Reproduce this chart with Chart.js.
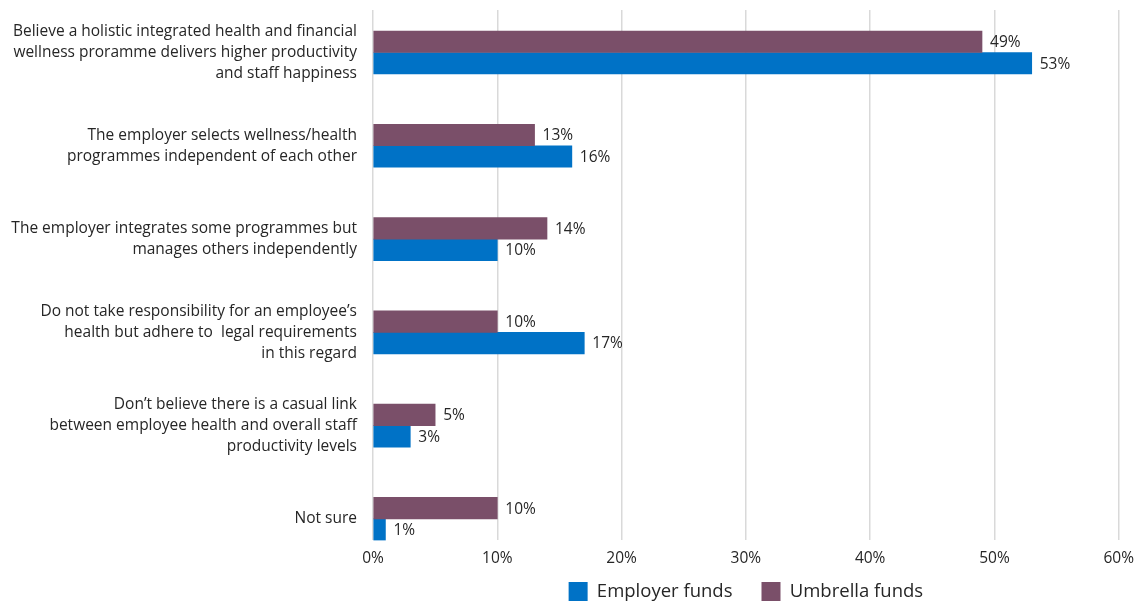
<!DOCTYPE html>
<html>
<head>
<meta charset="utf-8">
<script src="https://cdn.jsdelivr.net/npm/chart.js@4.4.1/dist/chart.umd.min.js"></script>
<style>
  html, body { margin: 0; padding: 0; background: #fff; }
  #wrap { width: 1143px; height: 603px; }
</style>
</head>
<body>
<div id="wrap"><canvas id="wellnessChart"></canvas></div>
<script>
// Survey answers, one entry per row (lines wrap as printed)
const categories = [
    ['Believe a holistic integrated health and financial', 'wellness proramme delivers higher productivity', 'and staff happiness'],
    ['The employer selects wellness/health', 'programmes independent of each other'],
    ['The employer integrates some programmes but', 'manages others independently'],
    ['Do not take responsibility for an employee\u2019s', 'health but adhere to  legal requirements', 'in this regard'],
    ['Don\u2019t believe there is a casual link', 'between employee health and overall staff', 'productivity levels'],
    ['Not sure']
];
const umbrellaFunds = [49, 13, 14, 10, 5, 10];
const employerFunds = [53, 16, 10, 17, 3, 1];
const xTicks = [0, 10, 20, 30, 40, 50, 60];

const FONT = '"Open Sans", sans-serif';
const TEXT = '#262626';

// value labels to the right of each bar
const valueLabels = {
    id: 'valueLabels',
    afterDatasetsDraw(chart) {
        const ctx = chart.ctx;
        ctx.save();
        ctx.font = '15.5px ' + FONT;
        ctx.fillStyle = TEXT;
        ctx.textAlign = 'left';
        ctx.textBaseline = 'middle';
        chart.data.datasets.forEach((ds, i) => {
            chart.getDatasetMeta(i).data.forEach((bar, j) => {
                ctx.fillText(ds.data[j].x + '%', bar.x + 8, bar.y + 1);
            });
        });
        ctx.restore();
    }
};

const toPoints = arr => arr.map((v, i) => ({ x: v, y: i }));

new Chart(document.getElementById('wellnessChart'), {
    type: 'bar',
    data: {
        datasets: [
            {
                label: 'Umbrella funds',
                data: toPoints(umbrellaFunds),
                backgroundColor: '#7a4f69',
                barThickness: 21.5
            },
            {
                label: 'Employer funds',
                data: toPoints(employerFunds),
                backgroundColor: '#0072c6',
                barThickness: 21.5
            }
        ]
    },
    options: {
        indexAxis: 'y',
        responsive: true,
        maintainAspectRatio: false,
        animation: false,
        layout: {
            padding: { top: 10, right: 21, bottom: -8, left: 0 }
        },
        scales: {
            x: {
                type: 'linear',
                min: 0,
                max: 60,
                afterBuildTicks: s => { s.ticks = xTicks.map(v => ({ value: v })); },
                grid: { color: '#d9d9d9', lineWidth: 1.5, drawTicks: false },
                border: { display: false },
                ticks: {
                    padding: 9,
                    color: TEXT,
                    font: { family: FONT, size: 15.5 },
                    callback: v => v + '%'
                }
            },
            y: {
                type: 'linear',
                reverse: true,
                offset: false,
                min: -0.456,
                max: 5.231,
                afterBuildTicks: s => { s.ticks = categories.map((c, i) => ({ value: i })); },
                afterFit: s => {
                    s.width = 373;
                    s.paddingTop = 0;
                    s.paddingBottom = 0;
                },
                grid: { display: false, drawTicks: false, offset: false },
                border: { display: false },
                ticks: {
                    padding: 16,
                    color: TEXT,
                    font: { family: FONT, size: 15.5, lineHeight: '21px' },
                    callback: v => categories[v]
                }
            }
        },
        plugins: {
            tooltip: { enabled: false },
            legend: {
                position: 'bottom',
                fullSize: false,
                reverse: true,
                labels: {
                    boxWidth: 19,
                    boxHeight: 19,
                    padding: 5,
                    color: TEXT,
                    font: { family: FONT, size: 18.5 },
                    generateLabels: chart => {
                        const items = Chart.defaults.plugins.legend.labels.generateLabels(chart);
                        items.forEach(it => { if (it.text === 'Employer funds') it.text += '     '; });
                        return items;
                    }
                }
            }
        }
    },
    plugins: [valueLabels]
});
</script>
</body>
</html>
